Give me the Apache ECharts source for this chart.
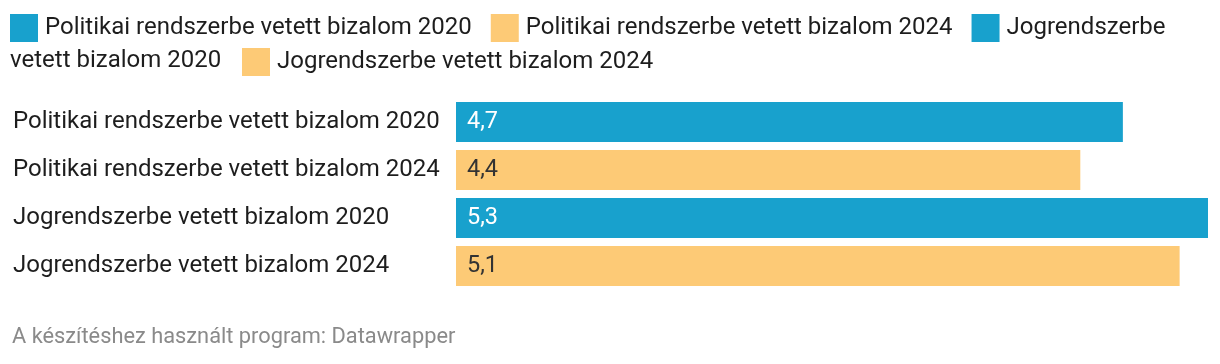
<!DOCTYPE html>
<html>
<head>
<meta charset="utf-8">
<script src="https://cdn.jsdelivr.net/npm/echarts@6/dist/echarts.min.js"></script>
<style>
html,body{margin:0;padding:0;background:#fff;}
#chart{width:1220px;height:364px;}
</style>
</head>
<body>
<div id="chart"></div>
<script>
var categories = [
  'Politikai rendszerbe vetett bizalom 2020',
  'Politikai rendszerbe vetett bizalom 2024',
  'Jogrendszerbe vetett bizalom 2020',
  'Jogrendszerbe vetett bizalom 2024'
];
var values = [4.7, 4.4, 5.3, 5.1];
var colors = ['#18a1cd', '#fdca76', '#18a1cd', '#fdca76'];
var labelColors = ['#ffffff', '#333333', '#ffffff', '#333333'];
var footerText = 'A készítéshez használt program: Datawrapper';

var FONT = 'Roboto';
var series = categories.map(function (name, i) {
  var data = categories.map(function (c, j) { return j === i ? values[i] : null; });
  return {
    name: name,
    type: 'bar',
    stack: 'all',
    data: data,
    barCategoryGap: '16.7%',
    itemStyle: { color: colors[i] },
    label: {
      show: true,
      position: 'insideLeft',
      distance: 11,
      color: labelColors[i],
      fontFamily: FONT,
      fontSize: 23.5,
      formatter: function (p) { return String(p.value).replace('.', ','); }
    },
    emphasis: { disabled: true },
    silent: true
  };
});

var legendText = { fontFamily: FONT, fontSize: 24, color: '#1d1d1d', padding: [0, 0, 2, 2] };

var chart = echarts.init(document.getElementById('chart'), null, { renderer: 'canvas' });
chart.setOption({
  animation: false,
  backgroundColor: '#ffffff',
  grid: { left: 456, right: 12, top: 98, bottom: 74, containLabel: false },
  legend: [
    {
      data: categories.slice(0, 3),
      left: 10, top: 14, padding: 0,
      orient: 'horizontal',
      itemWidth: 28, itemHeight: 28, itemGap: 19,
      icon: 'rect',
      selectedMode: false,
      textStyle: legendText,
      formatter: function (n) { return n === categories[2] ? 'Jogrendszerbe' : n; }
    },
    {
      data: categories.slice(3),
      left: 242, top: 48, padding: 0,
      itemWidth: 28, itemHeight: 28,
      icon: 'rect',
      selectedMode: false,
      textStyle: legendText
    }
  ],
  graphic: [
    {
      type: 'text',
      style: { x: 10, y: 61, verticalAlign: 'middle', text: 'vetett bizalom 2020', fontFamily: FONT, fontSize: 24, fill: '#1d1d1d' }
    },
    {
      type: 'text',
      style: { x: 12, y: 338, verticalAlign: 'middle', text: footerText, fontFamily: FONT, fontSize: 21.8, fill: '#8a8a8a' }
    }
  ],
  xAxis: {
    type: 'value', min: 0, max: 5.3,
    show: false
  },
  yAxis: {
    type: 'category',
    data: categories,
    inverse: true,
    axisLine: { show: false },
    axisTick: { show: false },
    splitLine: { show: false },
    axisLabel: {
      align: 'left',
      margin: 443,
      fontFamily: FONT,
      fontSize: 24,
      color: '#1d1d1d'
    }
  },
  series: series
});
</script>
</body>
</html>
